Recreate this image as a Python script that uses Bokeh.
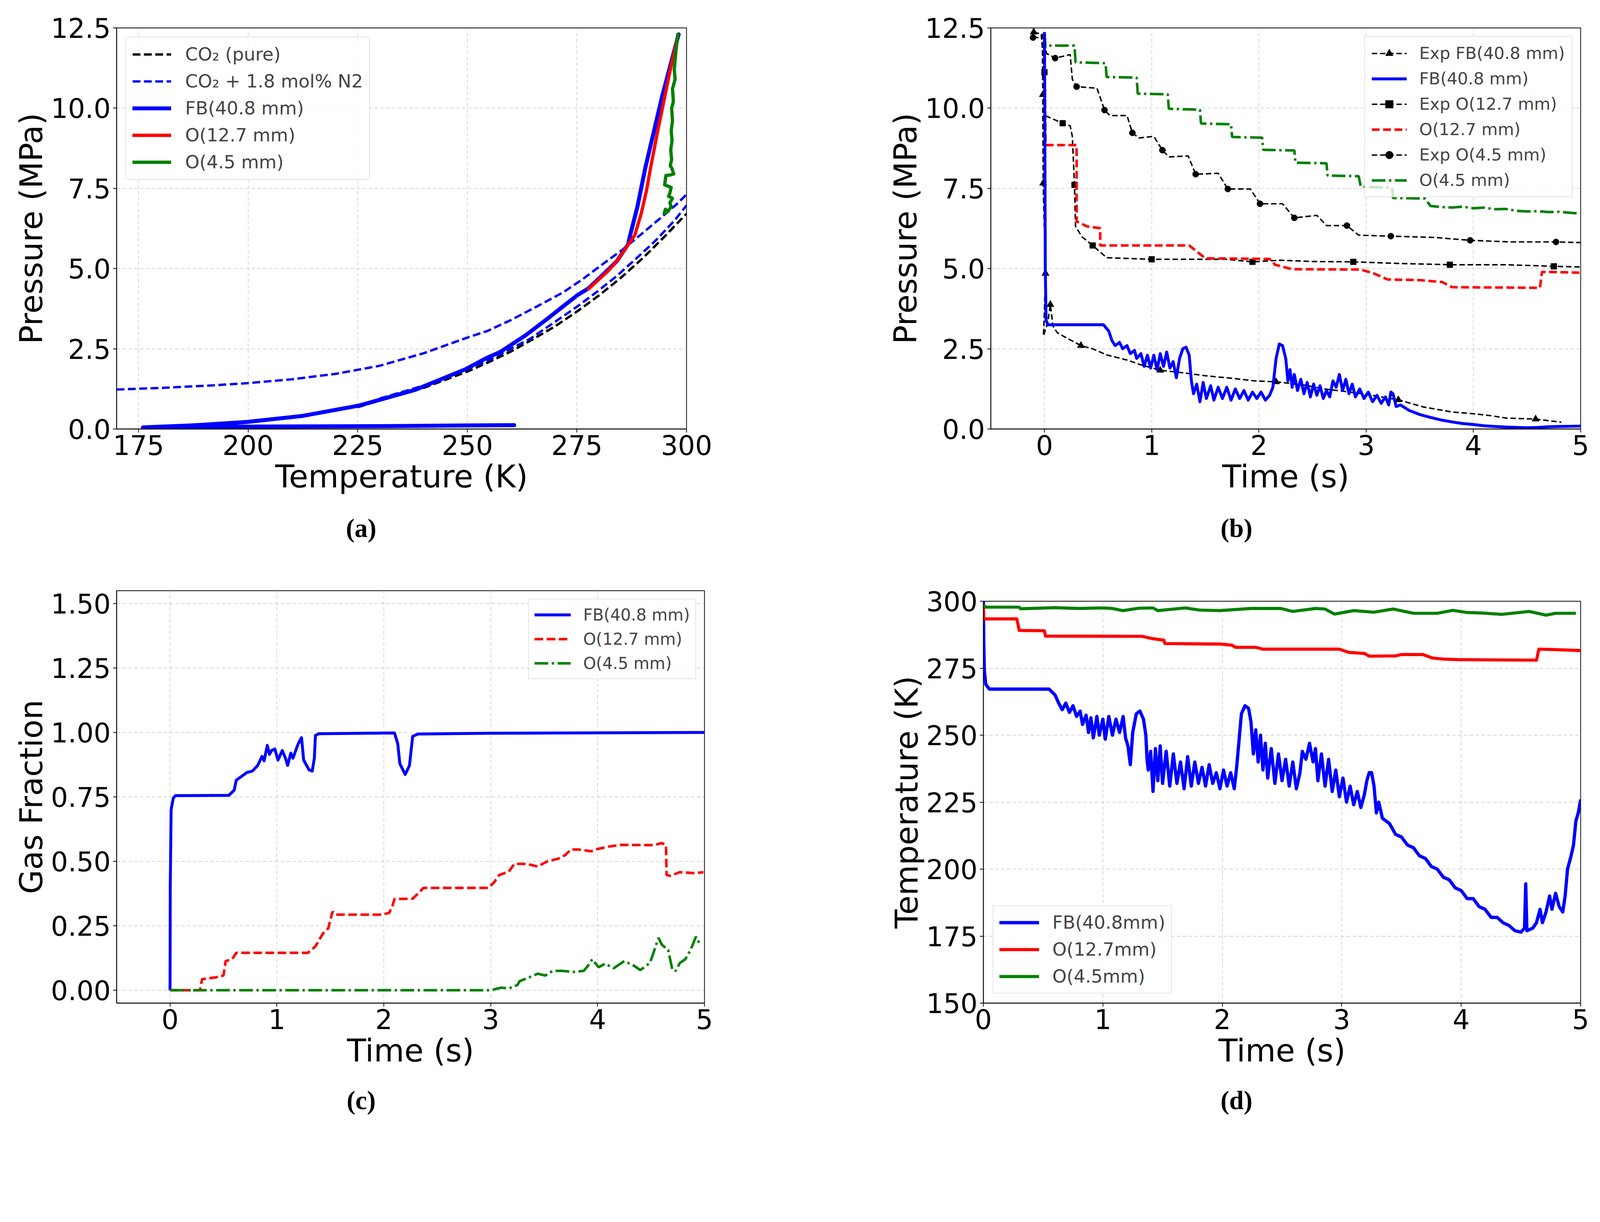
from bokeh.plotting import figure
from bokeh.models import Range1d, FixedTicker, PrintfTickFormatter, Legend, LegendItem, Title
from bokeh.layouts import row, column
from bokeh.embed import file_html
from bokeh.resources import INLINE

FONT = "DejaVu Sans"
S = 0.9298  # page scale so the layout fits the photographed window


def px(v):
    return int(round(v * S))


def fpx(v):
    return "%.1fpx" % (v * S)


def dash(*vals):
    return " ".join(str(max(1, int(round(v * S)))) for v in vals)


# ---------------- Panel (a): pressure vs temperature ----------------
a_pure_T = [225, 230, 240, 250, 255, 260, 265, 270, 275, 280, 285, 290, 295, 300]
a_pure_P = [0.68, 0.89, 1.28, 1.79, 2.09, 2.42, 2.80, 3.20, 3.66, 4.16, 4.71, 5.32, 6.00, 6.71]

a_bub_T = [170, 180, 192, 200, 210, 220, 230, 240, 250, 254.5, 260, 267, 272, 276.4, 281, 285.6, 289.4, 293.6, 297.7, 300]
a_bub_P = [1.23, 1.28, 1.36, 1.43, 1.55, 1.72, 1.97, 2.36, 2.85, 3.05, 3.40, 3.90, 4.27, 4.68, 5.15, 5.61, 6.04, 6.52, 7.00, 7.31]

a_dew_T = [230, 240, 250, 254.5, 264.3, 269.9, 274.9, 279.6, 284.1, 288.5, 293.0, 297.4, 300]
a_dew_P = [0.95, 1.35, 1.87, 2.12, 2.81, 3.33, 3.80, 4.28, 4.77, 5.31, 5.88, 6.52, 6.97]

a_fb_T = [298.2, 294.5, 290.6, 288.8, 287.0, 286.7, 284.1, 281.1, 277.6, 275.2, 272.2, 268.4, 263.4, 257.5,
          254.5, 249.7, 238.1, 225.3, 212.5, 199.8, 187.0, 176.0, 190.0, 210.0, 230.0, 250.0, 260.7]
a_fb_P = [12.30, 10.40, 8.14, 6.93, 5.96, 5.76, 5.23, 4.83, 4.38, 4.18, 3.86, 3.45, 2.93, 2.40,
          2.22, 1.87, 1.22, 0.73, 0.41, 0.22, 0.11, 0.05, 0.07, 0.08, 0.09, 0.11, 0.12]

a_o127_T = [277.6, 282.0, 284.1, 287.0, 288.2, 289.7, 290.9, 291.8, 293.3, 294.8, 296.3, 297.6, 298.1]
a_o127_P = [4.36, 4.91, 5.23, 5.80, 6.04, 6.73, 7.45, 8.14, 9.20, 10.20, 11.20, 12.00, 12.30]

a_o45_T = [298.0, 297.6, 297.2, 297.4, 296.8, 297.0, 296.6, 296.8, 296.5, 296.7, 296.4, 296.6, 296.3, 296.6,
           297.1, 296.4, 295.3, 295.1, 295.0, 296.5, 296.2, 295.9, 296.8, 296.2, 296.5, 295.9, 294.9, 295.2, 295.8]
a_o45_P = [12.30, 11.80, 11.20, 10.90, 10.60, 10.20, 10.00, 9.60, 9.30, 9.00, 8.70, 8.40, 8.20, 8.14,
           7.95, 7.92, 7.90, 7.70, 7.61, 7.53, 7.35, 7.25, 7.19, 7.05, 6.93, 6.81, 6.72, 6.85, 6.78]

# ---------------- Panel (b): pressure vs time ----------------
b_expfb_t = [-0.10, -0.02, -0.015, -0.012, 0.01, -0.005, -0.01, 0.03, 0.055, 0.08, 0.12, 0.20, 0.34, 0.45, 0.58,
             0.77, 0.90, 1.08, 1.30, 1.50, 1.75, 1.96, 2.16, 2.40, 2.61, 2.85, 3.02, 3.30, 3.53, 3.80, 3.99,
             4.15, 4.31, 4.58, 4.82]
b_expfb_p = [12.37, 12.30, 10.42, 7.66, 4.85, 3.20, 2.90, 3.30, 3.88, 3.20, 3.00, 2.85, 2.60, 2.50, 2.31,
             2.15, 2.00, 1.83, 1.75, 1.66, 1.58, 1.50, 1.47, 1.38, 1.25, 1.15, 1.07, 0.91, 0.69, 0.53, 0.48,
             0.42, 0.34, 0.31, 0.21]
b_expfb_mt = [-0.10, -0.015, -0.012, 0.01, 0.055, 0.34, 1.08, 2.16, 3.30, 4.58]
b_expfb_mp = [12.37, 10.42, 7.66, 4.85, 3.88, 2.60, 1.83, 1.47, 0.91, 0.31]

b_fb_t = [0.0, 0.004, 0.008, 0.015, 0.03, 0.55, 0.60, 0.63, 0.66, 0.70, 0.73, 0.77, 0.80, 0.84, 0.86, 0.90, 0.93,
          0.96, 0.99, 1.02, 1.05, 1.08, 1.11, 1.14, 1.17, 1.20, 1.23, 1.26, 1.29, 1.32, 1.35, 1.37, 1.39, 1.42,
          1.45, 1.48, 1.51, 1.55, 1.58, 1.62, 1.66, 1.70, 1.74, 1.78, 1.82, 1.86, 1.90, 1.94, 1.98, 2.02, 2.06,
          2.10, 2.13, 2.16, 2.19, 2.22, 2.25, 2.27, 2.29, 2.31, 2.33, 2.36, 2.39, 2.42, 2.45, 2.48, 2.51, 2.54,
          2.57, 2.60, 2.63, 2.66, 2.69, 2.72, 2.75, 2.78, 2.81, 2.84, 2.87, 2.90, 2.94, 2.98, 3.02, 3.06, 3.10,
          3.14, 3.18, 3.21, 3.23, 3.25, 3.28, 3.32, 3.40, 3.50, 3.60, 3.70, 3.80, 3.90, 4.00, 4.10, 4.20, 4.30,
          4.40, 4.50, 4.60, 4.70, 4.80, 5.00]
b_fb_p = [12.37, 9.00, 5.00, 3.40, 3.25, 3.25, 3.05, 2.75, 2.60, 2.70, 2.50, 2.60, 2.35, 2.45, 2.20, 2.35, 1.95,
          2.30, 1.90, 2.30, 1.85, 2.35, 1.95, 2.40, 1.90, 2.10, 1.60, 2.20, 2.50, 2.55, 2.30, 1.50, 1.10, 1.40,
          0.85, 1.45, 0.95, 1.35, 0.90, 1.30, 0.95, 1.30, 0.90, 1.25, 0.95, 1.20, 0.90, 1.15, 0.95, 1.15, 0.90,
          1.05, 1.30, 2.20, 2.65, 2.60, 2.20, 1.50, 1.85, 1.30, 1.70, 1.20, 1.55, 1.10, 1.45, 1.00, 1.40, 1.05,
          1.35, 0.95, 1.20, 1.00, 1.50, 1.30, 1.70, 1.20, 1.55, 1.10, 1.40, 1.00, 1.25, 0.95, 1.15, 0.85, 1.05,
          0.80, 1.00, 0.75, 1.15, 1.10, 0.70, 0.75, 0.58, 0.45, 0.36, 0.28, 0.22, 0.17, 0.14, 0.10, 0.08, 0.06,
          0.05, 0.04, 0.05, 0.07, 0.08, 0.09]

b_exp127_t = [-0.03, 0.0, 0.005, 0.17, 0.24, 0.26, 0.28, 0.29, 0.35, 0.45, 0.58, 1.00, 1.69, 1.94, 2.20, 2.50,
              2.88, 3.30, 3.78, 4.30, 4.75, 5.00]
b_exp127_p = [12.30, 11.12, 9.77, 9.53, 9.45, 9.12, 7.61, 6.31, 5.99, 5.72, 5.34, 5.29, 5.29, 5.21, 5.26, 5.22,
              5.21, 5.16, 5.12, 5.12, 5.07, 5.05]
b_exp127_mt = [0.0, 0.17, 0.28, 0.45, 1.00, 1.94, 2.88, 3.78, 4.75]
b_exp127_mp = [11.12, 9.53, 7.61, 5.72, 5.29, 5.21, 5.21, 5.12, 5.07]

b_o127_t = [0.0, 0.01, 0.30, 0.30, 0.40, 0.52, 0.52, 1.35, 1.41, 1.50, 2.10, 2.15, 2.31, 2.95, 3.07, 3.20, 3.50,
            3.71, 3.80, 4.62, 4.64, 5.00]
b_o127_p = [12.37, 8.85, 8.85, 6.47, 6.31, 6.26, 5.72, 5.72, 5.56, 5.32, 5.30, 5.12, 4.98, 4.97, 4.85, 4.66, 4.64,
            4.58, 4.42, 4.40, 4.90, 4.87]

b_exp45_t = [-0.106, 0.0, 0.02, 0.10, 0.24, 0.26, 0.30, 0.49, 0.56, 0.61, 0.77, 0.82, 0.88, 1.02, 1.10, 1.16,
             1.34, 1.41, 1.62, 1.71, 1.92, 2.01, 2.22, 2.33, 2.54, 2.63, 2.82, 2.93, 3.23, 3.64, 3.97, 4.36,
             4.77, 5.00]
b_exp45_p = [12.20, 12.20, 11.70, 11.56, 11.67, 10.90, 10.67, 10.62, 9.94, 9.77, 9.77, 9.23, 9.07, 9.12, 8.69,
             8.48, 8.51, 7.94, 7.97, 7.48, 7.48, 7.02, 7.02, 6.58, 6.66, 6.34, 6.34, 6.04, 6.01, 5.97, 5.88,
             5.83, 5.83, 5.81]
b_exp45_mt = [-0.106, 0.10, 0.30, 0.56, 0.82, 1.10, 1.41, 1.71, 2.01, 2.33, 2.82, 3.23, 3.97, 4.77]
b_exp45_mp = [12.20, 11.56, 10.67, 9.94, 9.23, 8.69, 7.94, 7.48, 7.02, 6.58, 6.34, 6.01, 5.88, 5.83]

b_o45_t = [0.0, 0.01, 0.28, 0.29, 0.57, 0.58, 0.86, 0.87, 1.15, 1.16, 1.45, 1.46, 1.74, 1.75, 2.03, 2.04, 2.33,
           2.34, 2.63, 2.64, 2.93, 2.95, 3.24, 3.25, 3.55, 3.60, 3.70, 3.80, 3.90, 4.00, 4.10, 4.20, 4.30,
           4.40, 4.50, 4.60, 4.70, 4.80, 4.90, 4.97]
b_o45_p = [12.37, 11.95, 11.95, 11.43, 11.40, 10.97, 10.95, 10.45, 10.43, 9.98, 9.95, 9.52, 9.50, 9.10, 9.08,
           8.70, 8.68, 8.30, 8.28, 7.90, 7.88, 7.55, 7.52, 7.20, 7.18, 6.95, 6.92, 6.90, 6.93, 6.88, 6.90,
           6.85, 6.86, 6.80, 6.78, 6.79, 6.76, 6.77, 6.74, 6.72]

# ---------------- Panel (c): gas fraction vs time ----------------
c_fb_t = [0.0, 0.002, 0.01, 0.03, 0.05, 0.55, 0.60, 0.62, 0.67, 0.72, 0.77, 0.82, 0.86, 0.88, 0.91, 0.93, 0.95,
          0.98, 1.01, 1.05, 1.08, 1.10, 1.13, 1.15, 1.18, 1.20, 1.23, 1.25, 1.30, 1.33, 1.35, 1.36, 1.39, 2.10,
          2.13, 2.15, 2.20, 2.24, 2.27, 2.32, 3.00, 5.00]
c_fb_p = [0.0, 0.40, 0.70, 0.745, 0.755, 0.756, 0.776, 0.815, 0.83, 0.845, 0.85, 0.872, 0.907, 0.89, 0.95, 0.915,
          0.93, 0.936, 0.893, 0.93, 0.90, 0.872, 0.92, 0.90, 0.935, 0.957, 0.98, 0.893, 0.855, 0.85, 0.90, 0.988,
          0.995, 0.998, 0.957, 0.879, 0.837, 0.872, 0.985, 0.994, 0.997, 1.0]

c_o127_t = [0.0, 0.28, 0.30, 0.43, 0.50, 0.52, 0.58, 0.62, 1.29, 1.36, 1.43, 1.48, 1.52, 1.55, 1.98, 2.05, 2.08,
            2.10, 2.27, 2.34, 2.37, 2.98, 3.03, 3.08, 3.17, 3.22, 3.34, 3.44, 3.53, 3.63, 3.70, 3.75, 3.82,
            3.94, 3.98, 4.10, 4.22, 4.53, 4.60, 4.64, 4.645, 4.68, 4.77, 4.91, 4.99]
c_o127_p = [0.0, 0.0, 0.043, 0.05, 0.057, 0.113, 0.12, 0.145, 0.145, 0.17, 0.22, 0.24, 0.305, 0.293, 0.293, 0.30,
            0.326, 0.354, 0.355, 0.383, 0.397, 0.397, 0.418, 0.447, 0.46, 0.49, 0.49, 0.48, 0.50, 0.51, 0.525,
            0.546, 0.546, 0.539, 0.546, 0.557, 0.564, 0.563, 0.571, 0.563, 0.447, 0.444, 0.458, 0.454, 0.458]

c_o45_t = [0.0, 3.00, 3.10, 3.17, 3.25, 3.27, 3.36, 3.44, 3.51, 3.58, 3.67, 3.77, 3.87, 3.91, 3.95, 4.01, 4.07,
           4.15, 4.25, 4.34, 4.40, 4.49, 4.52, 4.57, 4.60, 4.66, 4.70, 4.73, 4.77, 4.82, 4.87, 4.92, 4.95]
c_o45_p = [0.0, 0.0, 0.01, 0.007, 0.02, 0.035, 0.05, 0.064, 0.057, 0.075, 0.075, 0.071, 0.075, 0.095, 0.12,
           0.089, 0.103, 0.085, 0.113, 0.095, 0.078, 0.106, 0.142, 0.203, 0.177, 0.156, 0.078, 0.075, 0.106,
           0.12, 0.156, 0.208, 0.184]

# ---------------- Panel (d): temperature vs time ----------------
d_fb_t = [0.0, 0.003, 0.008, 0.02, 0.05, 0.55, 0.60, 0.63, 0.66, 0.69, 0.72, 0.75, 0.78, 0.81, 0.83, 0.86, 0.88,
          0.90, 0.92, 0.95, 0.97, 1.00, 1.02, 1.05, 1.08, 1.11, 1.14, 1.17, 1.19, 1.21, 1.23, 1.25, 1.28, 1.31,
          1.34, 1.36, 1.37, 1.38, 1.40, 1.42, 1.44, 1.46, 1.48, 1.50, 1.53, 1.56, 1.59, 1.62, 1.65, 1.68, 1.71,
          1.74, 1.77, 1.80, 1.83, 1.86, 1.89, 1.92, 1.95, 1.98, 2.01, 2.04, 2.07, 2.10, 2.12, 2.14, 2.16, 2.19,
          2.22, 2.24, 2.26, 2.28, 2.30, 2.32, 2.34, 2.36, 2.38, 2.41, 2.44, 2.47, 2.50, 2.53, 2.56, 2.59, 2.62,
          2.65, 2.67, 2.70, 2.73, 2.76, 2.78, 2.80, 2.83, 2.86, 2.89, 2.92, 2.95, 2.98, 3.01, 3.04, 3.07, 3.10,
          3.13, 3.16, 3.19, 3.21, 3.23, 3.25, 3.27, 3.29, 3.31, 3.34, 3.40, 3.45, 3.50, 3.55, 3.60, 3.65, 3.70,
          3.75, 3.80, 3.85, 3.90, 3.95, 4.00, 4.05, 4.10, 4.15, 4.20, 4.25, 4.30, 4.35, 4.40, 4.45, 4.50, 4.53,
          4.54, 4.55, 4.60, 4.63, 4.66, 4.68, 4.71, 4.74, 4.76, 4.79, 4.82, 4.85, 4.87, 4.89, 4.92, 4.94, 4.96,
          4.98, 5.00]
d_fb_T = [300, 285, 274, 269, 267.2, 267.2, 265, 262, 259.5, 262, 258.5, 261, 257, 259, 254, 257.5, 251,
          256.5, 249, 257, 250, 256, 248.5, 257, 250, 256, 251, 257, 249, 246, 239, 251, 258, 259,
          256, 250, 241, 237, 244, 229, 245, 233, 246, 232, 244, 231, 243, 232, 240, 230, 242,
          231, 240, 232, 238, 231, 239, 232, 236, 230, 237, 231, 236, 230, 238, 248, 258, 261,
          260, 255, 243, 252, 240, 250, 237, 247, 234, 245, 232, 243, 233, 241, 231, 240, 230,
          236, 244, 241, 247, 240, 245, 233, 243, 231, 241, 229, 237, 227, 234, 225, 231, 224,
          229, 223, 228, 233, 236, 236, 231, 221, 225, 219, 217, 213, 212, 209, 208, 205, 204,
          201, 200, 197, 196, 193, 192, 189, 189, 186, 185, 182, 182, 180, 179, 177, 176.5, 178,
          194.5, 177, 178, 180, 185, 180, 184, 190, 185, 191, 186, 184, 190, 200, 205, 209, 218,
          221, 226]

d_o127_t = [0.0, 0.004, 0.28, 0.30, 0.51, 0.52, 1.33, 1.42, 1.51, 1.52, 1.99, 2.08, 2.11, 2.28, 2.34, 2.98, 3.06,
            3.19, 3.23, 3.45, 3.50, 3.68, 3.76, 3.85, 3.97, 4.63, 4.65, 4.75, 5.00]
d_o127_T = [298.9, 293.4, 293.4, 289.1, 289.0, 287.0, 286.9, 286.0, 285.5, 284.2, 284.0, 283.6, 282.8, 282.8,
            282.1, 282.1, 280.9, 280.5, 279.5, 279.6, 280.1, 280.1, 278.8, 278.4, 278.2, 278.0, 282.1, 282.0,
            281.6]

d_o45_t = [0.0, 0.02, 0.30, 0.31, 0.60, 0.80, 1.00, 1.08, 1.17, 1.30, 1.42, 1.46, 1.69, 1.81, 1.98, 2.24, 2.49,
           2.59, 2.78, 2.86, 2.94, 3.10, 3.27, 3.43, 3.60, 3.80, 3.93, 4.05, 4.18, 4.34, 4.57, 4.71, 4.79, 4.96]
d_o45_T = [298.5, 297.8, 297.8, 297.2, 297.6, 297.3, 297.5, 297.3, 296.5, 297.4, 297.5, 296.5, 297.5, 296.7,
           296.5, 297.3, 297.3, 296.2, 297.3, 297.1, 295.2, 296.5, 295.9, 297.1, 295.5, 295.5, 296.6, 295.8,
           295.6, 295.1, 296.2, 294.8, 295.5, 295.5]


def make_fig(xr, yr, w, h, bl, br, bt, bb, xticks, yticks, xfmt, yfmt, xlabel, ylabel):
    p = figure(x_range=Range1d(*xr), y_range=Range1d(*yr), width=px(w), height=px(h),
               min_border_left=px(bl), min_border_right=px(br), min_border_top=px(bt),
               min_border_bottom=px(bb), output_backend="svg", toolbar_location=None,
               background_fill_color="white", border_fill_color="white")
    p.outline_line_color = "black"
    p.outline_line_width = 2 * S
    for ax in (p.xaxis[0], p.yaxis[0]):
        ax.axis_line_color = "black"
        ax.axis_line_width = 2 * S
        ax.major_tick_line_width = 2 * S
        ax.major_tick_out = px(10)
        ax.major_tick_in = 0
        ax.minor_tick_out = 0
        ax.minor_tick_in = 0
        ax.major_label_text_font = FONT
        ax.major_label_text_font_size = fpx(74)
        ax.major_label_text_color = "black"
        ax.axis_label_text_font = FONT
        ax.axis_label_text_font_size = fpx(86)
        ax.axis_label_text_font_style = "normal"
        ax.axis_label_text_color = "black"
        ax.major_label_standoff = px(6)
    p.xaxis[0].ticker = FixedTicker(ticks=xticks)
    p.yaxis[0].ticker = FixedTicker(ticks=yticks)
    p.xaxis[0].formatter = PrintfTickFormatter(format=xfmt)
    p.yaxis[0].formatter = PrintfTickFormatter(format=yfmt)
    p.xaxis[0].axis_label = xlabel
    p.yaxis[0].axis_label = ylabel
    p.xaxis[0].axis_label_standoff = px(6)
    p.yaxis[0].axis_label_standoff = 0
    p.grid.grid_line_color = "#b0b0b0"
    p.grid.grid_line_alpha = 0.55
    p.grid.grid_line_dash = dash(10, 6)
    p.grid.grid_line_width = 2 * S
    return p


def add_legend(p, items, loc, fs, pad, spacing, gw, gh, standoff, margin):
    leg = Legend(items=items, location=loc, label_text_font=FONT, label_text_font_size=fpx(fs),
                 padding=px(pad), spacing=px(spacing), glyph_width=px(gw), glyph_height=px(gh),
                 label_height=px(gh), label_standoff=px(standoff), margin=px(margin),
                 border_line_color="#cccccc", border_line_width=3 * S,
                 background_fill_color="white", background_fill_alpha=0.8)
    p.add_layout(leg)


def add_caption(p, text, offset, standoff):
    p.add_layout(Title(text=text, align="left", offset=px(offset), standoff=px(standoff),
                       text_font="Liberation Serif", text_font_size=fpx(72), text_font_style="bold",
                       text_color="black"), "below")


BLUE, RED, GREEN = "#0000ff", "#ff0000", "#008000"
ticks_p = [0, 2.5, 5.0, 7.5, 10.0, 12.5]
ticks_t = [0, 1, 2, 3, 4, 5]

# ---- (a)
pa = make_fig((170, 300), (0, 12.5), 2150, 1542, 320, 260, 76, 361,
              [175, 200, 225, 250, 275, 300], ticks_p, "%d", "%.1f",
              "Temperature (K)", "Pressure (MPa)")
r_pure = pa.line(a_pure_T, a_pure_P, line_color="black", line_width=6.5 * S, line_dash=dash(22, 10))
r_bub = pa.line(a_bub_T, a_bub_P, line_color=BLUE, line_width=6.5 * S, line_dash=dash(22, 10))
pa.line(a_dew_T, a_dew_P, line_color=BLUE, line_width=6.5 * S, line_dash=dash(22, 10))
r_afb = pa.line(a_fb_T, a_fb_P, line_color=BLUE, line_width=11 * S, line_join="round", line_cap="round")
r_a127 = pa.line(a_o127_T, a_o127_P, line_color=RED, line_width=9 * S, line_join="round", line_cap="round")
r_a45 = pa.line(a_o45_T, a_o45_P, line_color=GREEN, line_width=9 * S, line_join="round", line_cap="round")
add_legend(pa, [LegendItem(label="CO\u2082 (pure)", renderers=[r_pure]),
                LegendItem(label="CO\u2082 + 1.8 mol% N2", renderers=[r_bub]),
                LegendItem(label="FB(40.8 mm)", renderers=[r_afb]),
                LegendItem(label="O(12.7 mm)", renderers=[r_a127]),
                LegendItem(label="O(4.5 mm)", renderers=[r_a45])],
           "top_left", 50, 17, 16, 107, 58, 39, 25)
add_caption(pa, "(a)", 631, 93)

# ---- (b)
pb = make_fig((-0.5, 5), (0, 12.5), 2259, 1542, 578, 57, 76, 361,
              ticks_t, ticks_p, "%d", "%.1f", "Time (s)", "Pressure (MPa)")
r_efb_l = pb.line(b_expfb_t, b_expfb_p, line_color="black", line_width=4 * S, line_dash=dash(15, 7))
r_efb_m = pb.scatter(b_expfb_mt, b_expfb_mp, marker="triangle", size=20 * S, color="black")
r_e127_l = pb.line(b_exp127_t, b_exp127_p, line_color="black", line_width=4 * S, line_dash=dash(15, 7))
r_e127_m = pb.scatter(b_exp127_mt, b_exp127_mp, marker="square", size=16 * S, color="black")
r_e45_l = pb.line(b_exp45_t, b_exp45_p, line_color="black", line_width=4 * S, line_dash=dash(15, 7))
r_e45_m = pb.scatter(b_exp45_mt, b_exp45_mp, marker="circle", size=17 * S, color="black")
r_b127 = pb.line(b_o127_t, b_o127_p, line_color=RED, line_width=7 * S, line_dash=dash(22, 10))
r_b45 = pb.line(b_o45_t, b_o45_p, line_color=GREEN, line_width=7 * S, line_dash=dash(38, 10, 6, 10))
r_bfb = pb.line(b_fb_t, b_fb_p, line_color=BLUE, line_width=8 * S, line_join="round")
add_legend(pb, [LegendItem(label="Exp FB(40.8 mm)", renderers=[r_efb_l, r_efb_m]),
                LegendItem(label="FB(40.8 mm)", renderers=[r_bfb]),
                LegendItem(label="Exp O(12.7 mm)", renderers=[r_e127_l, r_e127_m]),
                LegendItem(label="O(12.7 mm)", renderers=[r_b127]),
                LegendItem(label="Exp O(4.5 mm)", renderers=[r_e45_l, r_e45_m]),
                LegendItem(label="O(4.5 mm)", renderers=[r_b45])],
           "top_right", 46, 18, 16, 97, 53, 34, 23)
add_caption(pb, "(b)", 632, 93)

# ---- (c)
pc = make_fig((-0.5, 5), (-0.05, 1.55), 2150, 1571, 320, 211, 84, 352,
              ticks_t, [0, 0.25, 0.5, 0.75, 1.0, 1.25, 1.5], "%d", "%.2f",
              "Time (s)", "Gas Fraction")
r_cfb = pc.line(c_fb_t, c_fb_p, line_color=BLUE, line_width=8 * S, line_join="round")
r_c127 = pc.line(c_o127_t, c_o127_p, line_color=RED, line_width=7 * S, line_dash=dash(24, 10))
r_c45 = pc.line(c_o45_t, c_o45_p, line_color=GREEN, line_width=7 * S, line_dash=dash(38, 10, 6, 10))
add_legend(pc, [LegendItem(label="FB(40.8 mm)", renderers=[r_cfb]),
                LegendItem(label="O(12.7 mm)", renderers=[r_c127]),
                LegendItem(label="O(4.5 mm)", renderers=[r_c45])],
           "top_right", 45, 15, 13, 100, 54, 34, 23)
add_caption(pc, "(c)", 633, 82)

# ---- (d)
pd_ = make_fig((0, 5), (150, 300), 2259, 1571, 557, 57, 113, 352,
               ticks_t, [150, 175, 200, 225, 250, 275, 300], "%d", "%d",
               "Time (s)", "Temperature (K)")
r_dfb = pd_.line(d_fb_t, d_fb_T, line_color=BLUE, line_width=9 * S, line_join="round")
r_d127 = pd_.line(d_o127_t, d_o127_T, line_color=RED, line_width=8.5 * S, line_join="round")
r_d45 = pd_.line(d_o45_t, d_o45_T, line_color=GREEN, line_width=8.5 * S, line_join="round")
add_legend(pd_, [LegendItem(label="FB(40.8mm)", renderers=[r_dfb]),
                 LegendItem(label="O(12.7mm)", renderers=[r_d127]),
                 LegendItem(label="O(4.5mm)", renderers=[r_d45])],
           "bottom_left", 50, 16, 16, 110, 58, 37, 26)
add_caption(pd_, "(d)", 653, 82)

# each plot sits in its own column so that the frames of neighbouring plots are not forced to align
layout = column(row(column(pa), column(pb)), row(column(pc), column(pd_)))
open("out.html", "w").write(file_html(layout, INLINE))
